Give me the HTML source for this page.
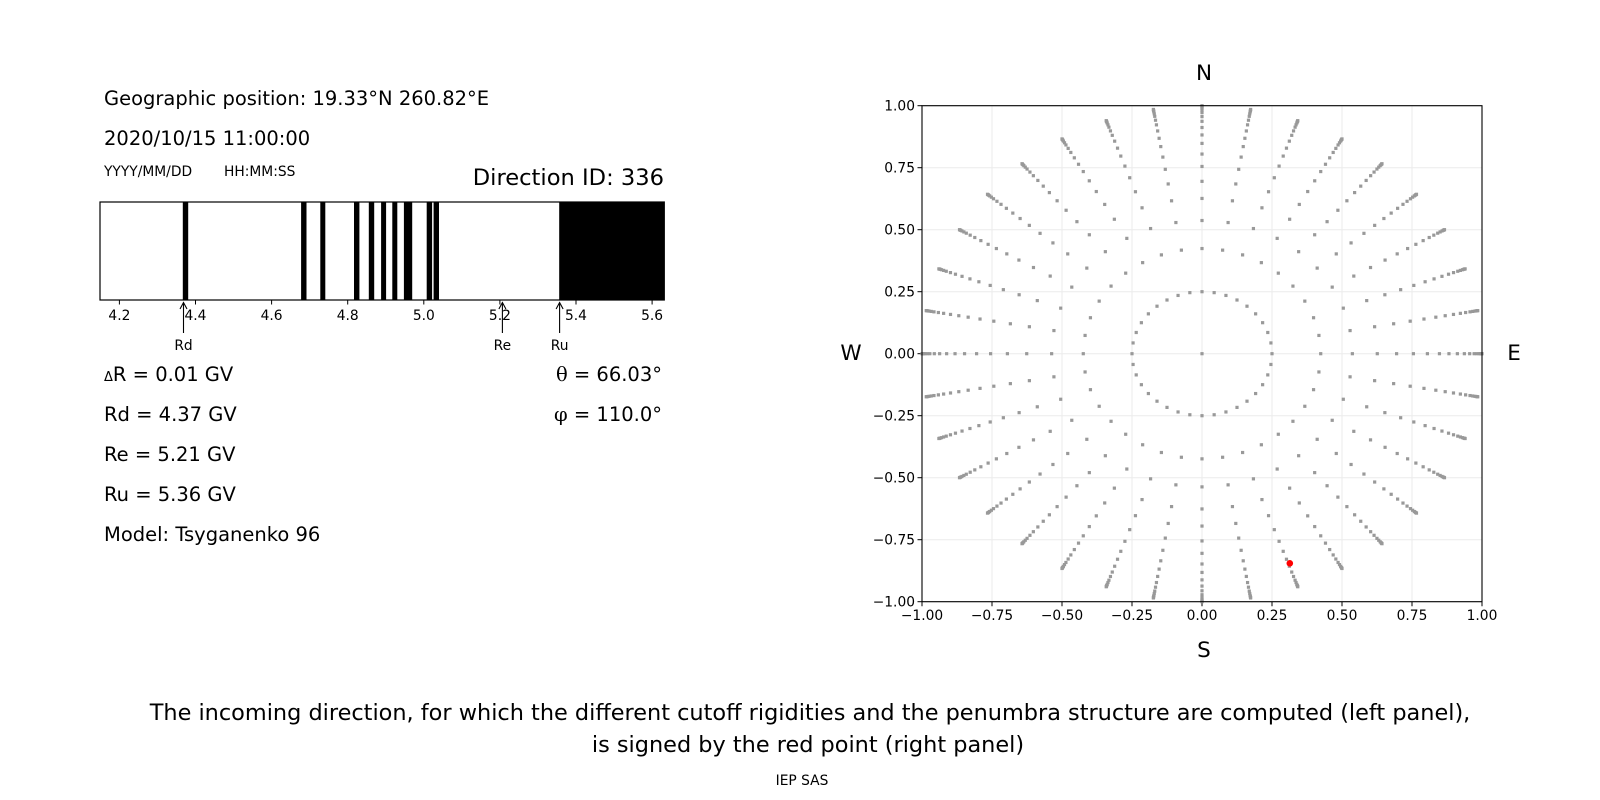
<!DOCTYPE html>
<html><head><meta charset="utf-8"><style>
html,body{margin:0;padding:0;background:#fff;}
svg{display:block;font-family:"DejaVu Sans","Liberation Sans",sans-serif;}
</style></head><body>
<svg id="s" width="1600" height="800" viewBox="0 0 1600 800" xmlns="http://www.w3.org/2000/svg">
<rect width="1600" height="800" fill="#fff"/>
<g font-size="19.5" fill="#000">
<text x="104" y="105">Geographic position: 19.33°N 260.82°E</text>
<text x="104" y="145">2020/10/15 11:00:00</text>
<text x="104" y="176" font-size="13.8">YYYY/MM/DD</text>
<text x="224" y="176" font-size="13.8">HH:MM:SS</text>
<text x="664" y="185" font-size="22.6" text-anchor="end">Direction ID: 336</text>
<text x="104" y="381"><tspan font-size="13">Δ</tspan>R = 0.01 GV</text>
<text x="104" y="421">Rd = 4.37 GV</text>
<text x="104" y="461">Re = 5.21 GV</text>
<text x="104" y="501">Ru = 5.36 GV</text>
<text x="104" y="541">Model: Tsyganenko 96</text>
<text x="662" y="381" text-anchor="end"><tspan font-family="'DejaVu Serif','Liberation Serif',serif">θ</tspan> = 66.03°</text>
<text x="662" y="421" text-anchor="end"><tspan font-family="'DejaVu Serif','Liberation Serif',serif">φ</tspan> = 110.0°</text>
</g>
<g id="bar"></g>
<g id="polar"></g>
<g font-size="21.5" text-anchor="middle">
<text x="1204" y="80">N</text>
<text x="1204" y="657">S</text>
<text x="851" y="360">W</text>
<text x="1514" y="360">E</text>
<text x="810" y="720" font-size="22.4">The incoming direction, for which the different cutoff rigidities and the penumbra structure are computed (left panel),</text>
<text x="808" y="752" font-size="22.4">is signed by the red point (right panel)</text>
<text x="802" y="785" font-size="13.8">IEP SAS</text>
</g>
<script>
var NS="http://www.w3.org/2000/svg";
function el(p,t,a,txt){var e=document.createElementNS(NS,t);for(var k in a)e.setAttribute(k,a[k]);if(txt!=null)e.textContent=txt;p.appendChild(e);return e;}
var bar=document.getElementById('bar');
var L=100,R=664.3,T=202,B=300;
var stripes=[[182.8,188.2],[301.1,306.5],[320.3,325.3],[354,359.4],[368.8,374.2],[381.1,386.1],[392.3,397.3],[403.9,412.2],[426.7,432.1],[433.6,439],[559.2,664.3]];
stripes.forEach(function(s){el(bar,'rect',{x:s[0],y:T,width:s[1]-s[0],height:B-T,fill:'#000'});});
el(bar,'rect',{x:L,y:T,width:R-L,height:B-T,fill:'none',stroke:'#000','stroke-width':1.2});
var labs=['4.2','4.4','4.6','4.8','5.0','5.2','5.4','5.6'];
labs.forEach(function(l,i){var x=119.4+76.1*i;el(bar,'line',{x1:x,y1:B,x2:x,y2:B+4.5,stroke:'#000','stroke-width':1});el(bar,'text',{x:x,y:320,'font-size':13.8,'text-anchor':'middle'},l);});
[[183.5,'Rd'],[502.4,'Re'],[559.6,'Ru']].forEach(function(a){var x=a[0];
el(bar,'line',{x1:x,y1:333,x2:x,y2:303,stroke:'#000','stroke-width':1.1});
el(bar,'path',{d:'M'+(x-3.5)+' 309 L'+x+' 302.5 L'+(x+3.5)+' 309',fill:'none',stroke:'#000','stroke-width':1.1});
el(bar,'text',{x:x,y:350,'font-size':13.8,'text-anchor':'middle'},a[1]);});
var p=document.getElementById('polar');
var AL=922,AR=1482,AT=105.7,AB=601.7,cx=(AL+AR)/2,cy=(AT+AB)/2,sx=(AR-AL)/2,sy=(AB-AT)/2;
for(var i=-4;i<=4;i++){var v=i*0.25;var gx=cx+v*sx,gy=cy-v*sy;
el(p,'line',{x1:gx,y1:AT,x2:gx,y2:AB,stroke:'#ebebeb','stroke-width':1});
el(p,'line',{x1:AL,y1:gy,x2:AR,y2:gy,stroke:'#ebebeb','stroke-width':1});
var t=v.toFixed(2);if(v<0)t='\u2212'+(-v).toFixed(2);
el(p,'line',{x1:gx,y1:AB,x2:gx,y2:AB+4.5,stroke:'#000'});
el(p,'text',{x:gx,y:620,'font-size':13.8,'text-anchor':'middle'},t);
el(p,'line',{x1:AL-4.5,y1:gy,x2:AL,y2:gy,stroke:'#000'});
el(p,'text',{x:AL-7,y:gy+5,'font-size':13.8,'text-anchor':'end'},t);}
function dot(x,y){el(p,'rect',{x:cx+x*sx-1.6,y:cy-y*sy-1.6,width:3.2,height:3.2,fill:'#999'});}
dot(0,0);
for(var a=0;a<360;a+=10){var r=a*Math.PI/180;dot(0.25*Math.sin(r),0.25*Math.cos(r));}
var rs=[0.424,0.537,0.626,0.695,0.755,0.805,0.848,0.882,0.912,0.937,0.956,0.972,0.982,0.99,0.995,0.998,1.0];
for(var a=0;a<360;a+=10){var r=a*Math.PI/180;rs.forEach(function(q){dot(q*Math.sin(r),q*Math.cos(r));});}
el(p,'circle',{cx:1289.8,cy:563.3,r:3.3,fill:'#f00'});
el(p,'rect',{x:AL,y:AT,width:AR-AL,height:AB-AT,fill:'none',stroke:'#000','stroke-width':1.1});
</script>
</svg>
</body></html>
